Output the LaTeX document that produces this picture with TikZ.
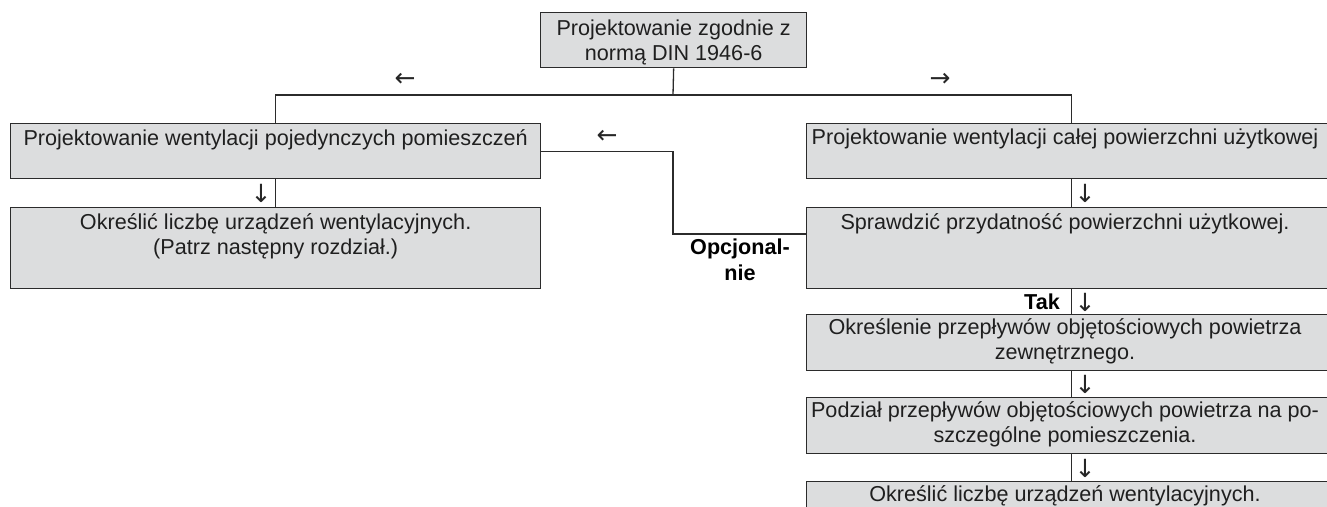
\documentclass[tikz,border=0pt]{standalone}
\usepackage{fontspec}
\setmainfont{Liberation Sans}
\newfontfamily\arrowfont{DejaVu Sans}
\definecolor{boxfill}{HTML}{DCDDDE}
\definecolor{edge}{HTML}{2B2B2B}
\begin{document}
\begin{tikzpicture}[x=1pt,y=-1pt,
  font=\fontsize{21.6}{25}\selectfont,
  box/.style={draw=edge, fill=boxfill, line width=1.3pt, rectangle,
    inner sep=0pt, anchor=north west},
  txt/.style={anchor=north, align=center, inner sep=0pt, text=black!88},
  conn/.style={draw=edge, line width=1.3pt},
  glyph/.style={inner sep=0pt, text=black!85, font=\arrowfont\fontsize{25}{25}\selectfont},
  tag/.style={inner sep=0pt, font=\fontsize{21.6}{26}\selectfont\bfseries, align=center}]
\useasboundingbox (0,0) rectangle (1327,506);

% boxes
\node[box, minimum width=266pt, minimum height=55pt] (top) at (540,12) {};
\node[box, minimum width=530pt, minimum height=55pt] (L1) at (10,123) {};
\node[box, minimum width=530pt, minimum height=81pt] (L2) at (10,207) {};
\node[box, minimum width=530pt, minimum height=55pt] (R1) at (806,123) {};
\node[box, minimum width=530pt, minimum height=81pt] (R2) at (806,207) {};
\node[box, minimum width=530pt, minimum height=56pt] (R3) at (806,314) {};
\node[box, minimum width=530pt, minimum height=56pt] (R4) at (806,397) {};
\node[box, minimum width=530pt, minimum height=56pt] (R5) at (806,481) {};

% box texts
\node[txt] (ttop) at ([yshift=-8pt]top.north) {Projektowanie zgodnie z\\normą DIN 1946-6};
\node[txt] (tL1) at ([yshift=-6pt]L1.north) {Projektowanie wentylacji pojedynczych pomieszczeń};
\node[txt] (tL2) at ([yshift=-6pt]L2.north) {Określić liczbę urządzeń wentylacyjnych.\\(Patrz następny rozdział.)};
\node[txt] (tR1) at ([yshift=-6pt]R1.north -| 1065,0) {Projektowanie wentylacji całej powierzchni użytkowej};
\node[txt] (tR2) at ([yshift=-6pt]R2.north -| 1065,0) {Sprawdzić przydatność powierzchni użytkowej.};
\node[txt] (tR3) at ([yshift=-4pt]R3.north -| 1065,0) {Określenie przepływów objętościowych powietrza\\zewnętrznego.};
\node[txt] (tR4) at ([yshift=-4pt]R4.north -| 1065,0) {Podział przepływów objętościowych powietrza na po-\\szczególne pomieszczenia.};
\node[txt] (tR5) at ([yshift=-4pt]R5.north -| 1065,0) {Określić liczbę urządzeń wentylacyjnych.};

% connectors
\coordinate (bus) at (673,95);
\coordinate (opt) at (673,234);
\draw[conn] (top.south) -- (bus);
\draw[conn] (L1.north) -- (L1.north |- bus) -- (R1.north |- bus) -- (R1.north);
\draw[conn] (L1.east) -| (opt) -- (opt -| R2.west);
\draw[conn] (L1.south) -- (L2.north);
\draw[conn] (R1.south) -- (R2.north);
\draw[conn] (R2.south) -- (R3.north);
\draw[conn] (R3.south) -- (R4.north);
\draw[conn] (R4.south) -- (R5.north);

% direction glyphs
\node[glyph] (gl) at (405,80) {←};
\node[glyph] (gr) at (940,80) {→};
\node[glyph] (go) at (607,137) {←};
\node[glyph] (gd1) at (261,193) {↓};
\node[glyph] (gd2) at (1085,193) {↓};
\node[glyph] (gd3) at (1085,302) {↓};
\node[glyph] (gd4) at (1085,384) {↓};
\node[glyph] (gd5) at (1085,468) {↓};

% branch labels
\node[tag] (opcj) at (740,260) {Opcjonal-\\nie};
\node[tag, anchor=east] (tak) at (1060,302) {Tak};
\end{tikzpicture}
\end{document}
